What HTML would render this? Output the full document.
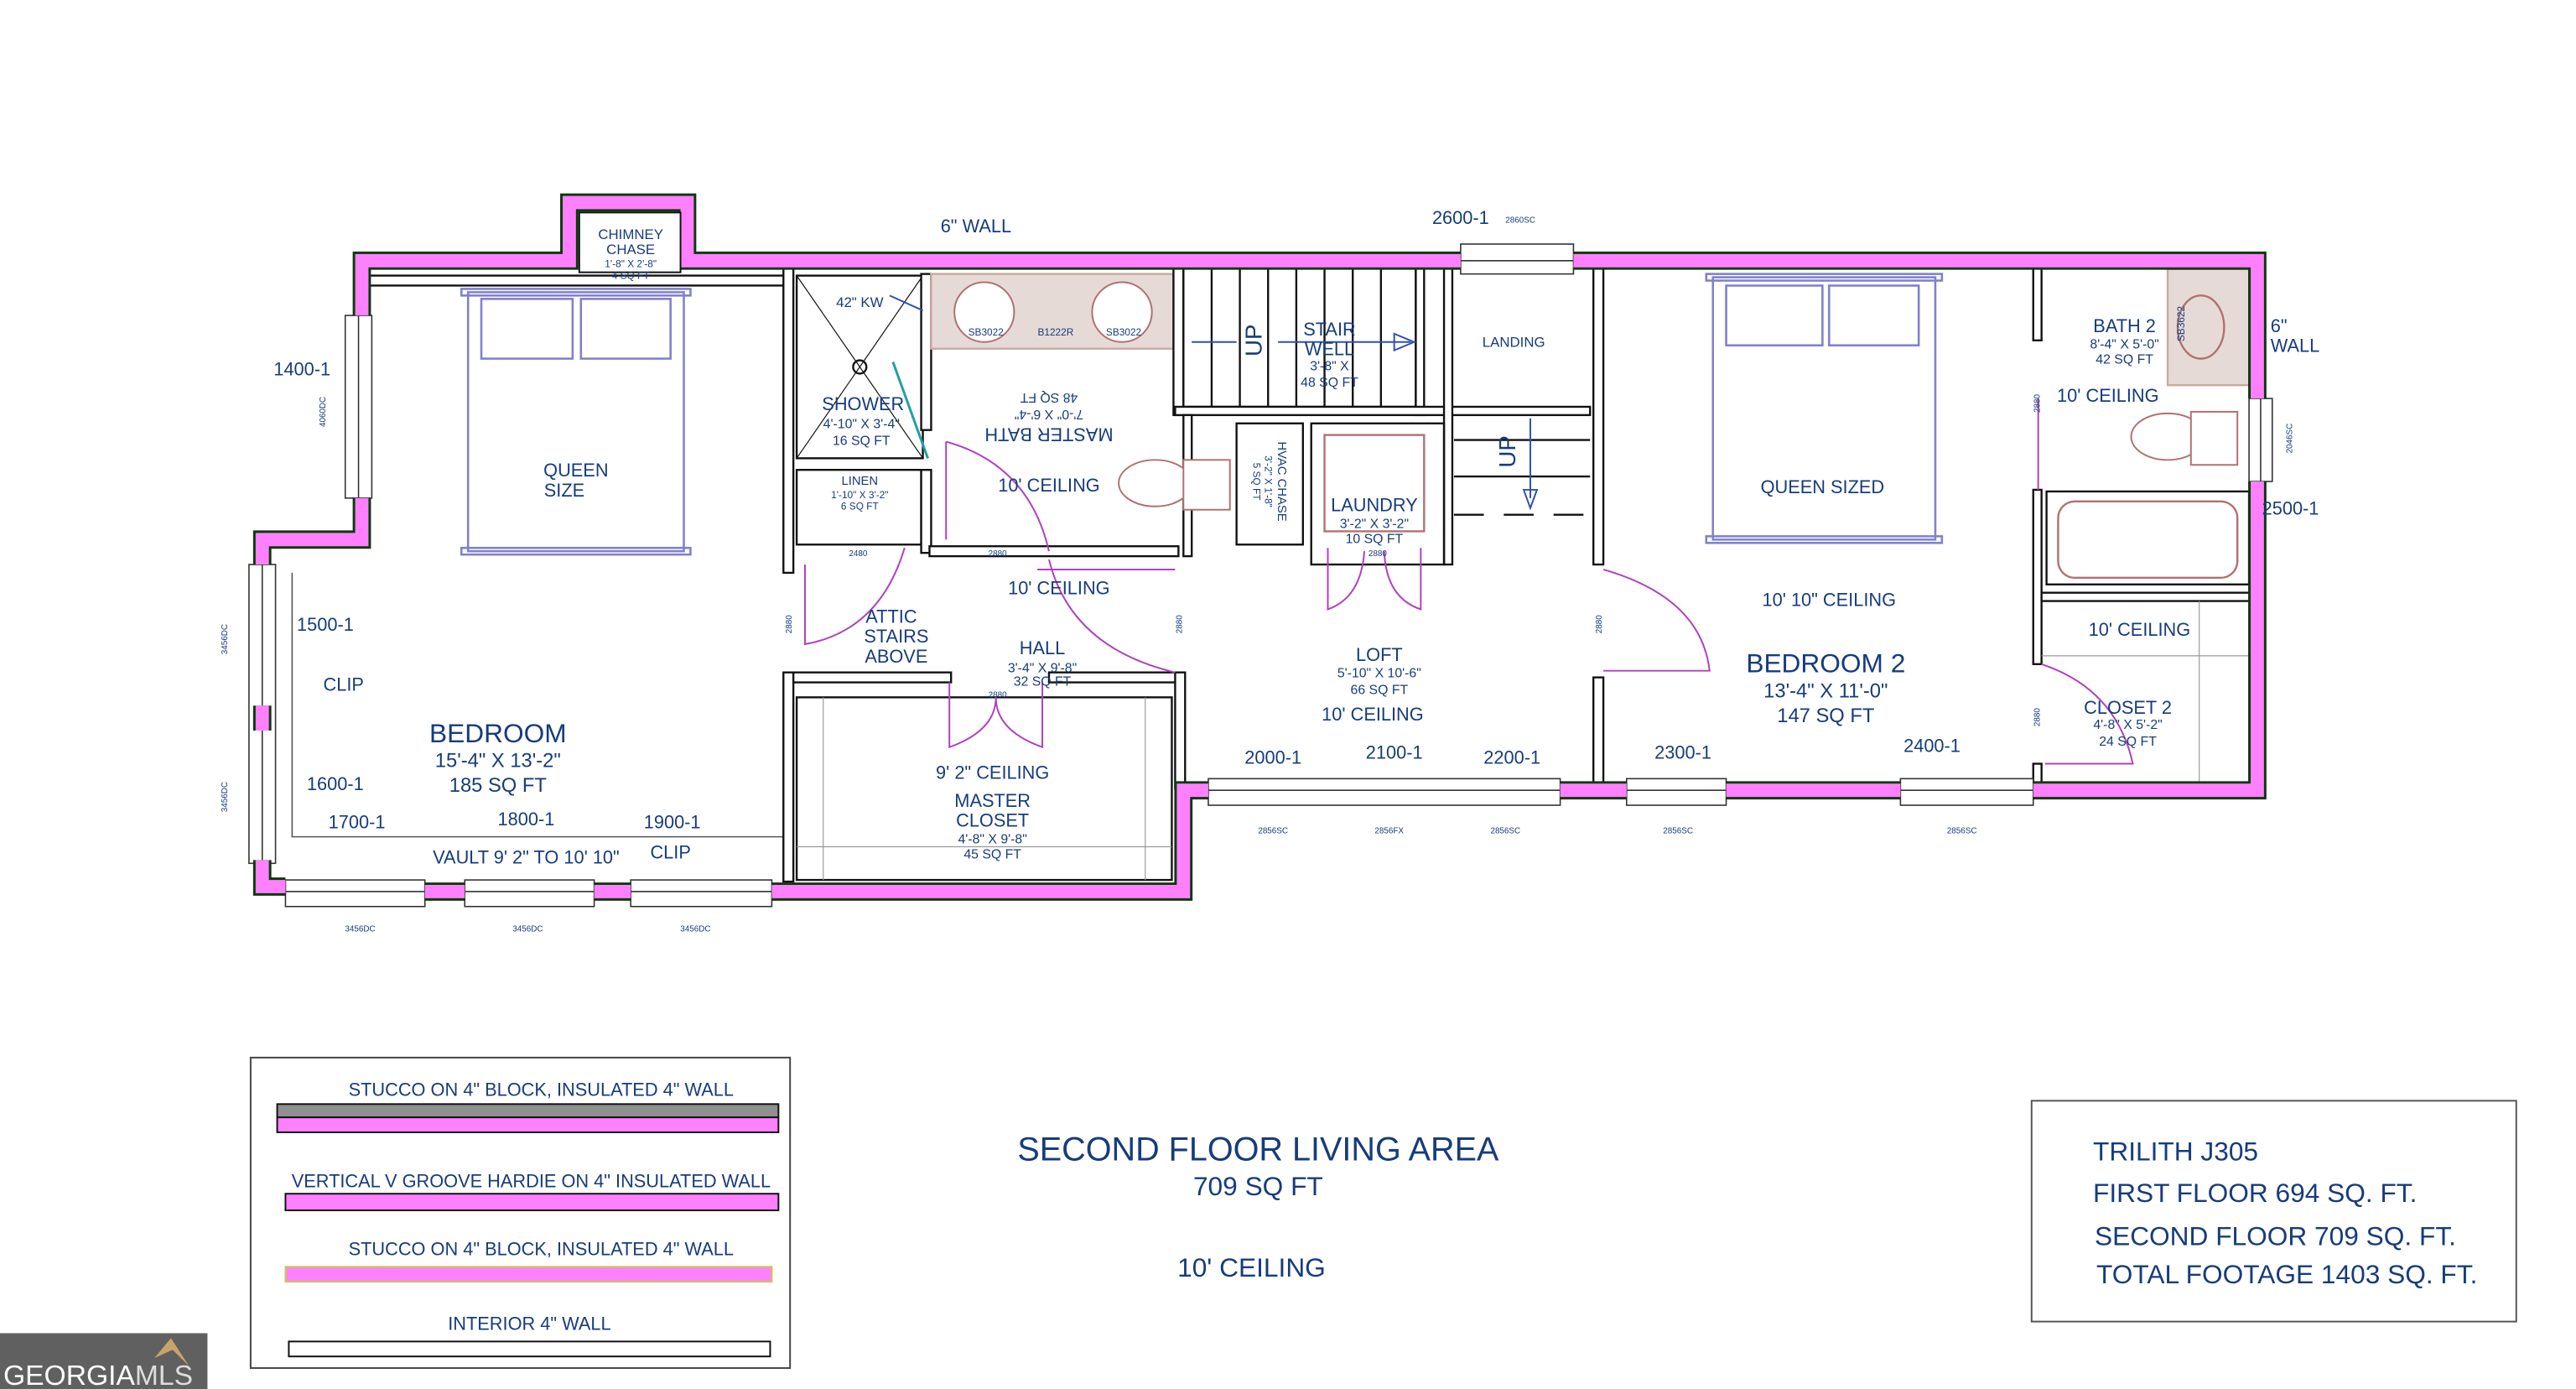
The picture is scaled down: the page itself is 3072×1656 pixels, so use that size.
<!DOCTYPE html>
<html><head><meta charset="utf-8"><style>
html,body{margin:0;padding:0;background:#fff;width:3072px;height:1656px;overflow:hidden}
svg{display:block}
text{font-family:"Liberation Sans Narrow","Liberation Sans",sans-serif;fill:#163c7c}
</style></head><body>
<svg width="3072" height="1656" viewBox="0 0 1552 836.6" xmlns="http://www.w3.org/2000/svg">
<rect width="1552" height="837" fill="#fff"/>
<!-- interior background lines/walls -->
<g fill="#fff" stroke="#111" stroke-width="1.2">
 <!-- bedroom inner top -->
 <line x1="222" y1="172" x2="472" y2="172"/>
 <line x1="222" y1="166" x2="472" y2="166"/>
 <!-- bedroom vault line -->
 <polyline points="176,345 176,504 472,504" fill="none" stroke="#555" stroke-width="0.8"/>
 <!-- wall between bedroom and bath/closet -->
 <rect x="472" y="160" width="6" height="185"/>
 <rect x="472" y="405" width="6" height="126"/>
 <!-- shower -->
 <rect x="480" y="166" width="76" height="110" fill="none"/>
 <line x1="480" y1="166" x2="556" y2="276" stroke-width="0.6"/>
 <line x1="556" y1="166" x2="480" y2="276" stroke-width="0.6"/>
 <circle cx="518" cy="221" r="4" fill="none"/>
 <rect x="555" y="165" width="6" height="94"/>
 <!-- linen -->
 <rect x="480" y="283" width="75" height="45" fill="none"/>
 <rect x="555" y="283" width="6" height="50"/>
 <rect x="560" y="329" width="150" height="6"/>
 <!-- vanity -->
 <rect x="561" y="165" width="146" height="45" fill="#e6dad6" stroke="#c9a8a0"/>
 <rect x="707" y="160" width="6" height="90"/>
 <!-- stairs -->
 <rect x="713" y="160" width="140" height="85" fill="none"/>
 <line x1="730" y1="160" x2="730" y2="245"/><line x1="747" y1="160" x2="747" y2="245"/>
 <line x1="764" y1="160" x2="764" y2="245"/><line x1="781" y1="160" x2="781" y2="245"/>
 <line x1="798" y1="160" x2="798" y2="245"/><line x1="815" y1="160" x2="815" y2="245"/>
 <line x1="832" y1="160" x2="832" y2="245"/>
 <rect x="853" y="160" width="5" height="90"/>
 <rect x="708" y="245" width="250" height="5"/>
 <line x1="876" y1="265" x2="958" y2="265"/><line x1="876" y1="287" x2="958" y2="287"/>
 <line x1="876" y1="310" x2="958" y2="310" stroke-dasharray="18,12"/>
 <rect x="870" y="160" width="5" height="180"/>
 <!-- hvac & laundry -->
 <rect x="745" y="255" width="40" height="73" fill="none"/>
 <rect x="790" y="255" width="80" height="85" fill="none"/>
 <rect x="798" y="262" width="60" height="58" fill="none" stroke="#b07070"/>
 <rect x="713" y="250" width="5" height="85"/>
 <!-- landing wall -->
 <rect x="960" y="160" width="6" height="180"/>
 <rect x="960" y="408" width="6" height="66"/>
 <!-- hall bottom wall / closet -->
 <rect x="478" y="405" width="95" height="6"/>
 <rect x="632" y="405" width="80" height="6"/>
 <rect x="708" y="405" width="6" height="70"/>
 <rect x="480" y="420" width="226" height="110" fill="none"/>
 <line x1="496" y1="420" x2="496" y2="530" stroke="#999" stroke-width="0.6"/>
 <line x1="690" y1="420" x2="690" y2="530" stroke="#999" stroke-width="0.6"/>
 <line x1="480" y1="510" x2="706" y2="510" stroke="#999" stroke-width="0.6"/>
 <!-- bath2 -->
 <rect x="1225" y="160" width="5" height="45"/>
 <rect x="1225" y="295" width="5" height="105"/>
 <rect x="1225" y="460" width="5" height="14"/>
 <rect x="1230" y="357" width="126" height="5"/>
 <rect x="1233" y="296" width="122" height="56" fill="none"/>
 <rect x="1240" y="302" width="108" height="46" rx="10" fill="none" stroke="#b07070"/>
 <rect x="1306" y="162" width="50" height="70" fill="#e6dad6" stroke="#c9a8a0"/>
 <ellipse cx="1326" cy="197" rx="14" ry="19" fill="none" stroke="#b07070"/>
 <line x1="1230" y1="395" x2="1355" y2="395" stroke="#999" stroke-width="0.6"/>
 <line x1="1325" y1="362" x2="1325" y2="472" stroke="#999" stroke-width="0.6"/>
</g>
<!-- toilets & sinks -->
<g fill="#fff" stroke="#b07070" stroke-width="1">
 <ellipse cx="593" cy="188" rx="18" ry="18"/><ellipse cx="676" cy="188" rx="18" ry="18"/>
 <ellipse cx="696" cy="291" rx="22" ry="14"/><rect x="713" y="277" width="28" height="30"/>
 <ellipse cx="1306" cy="263" rx="22" ry="14"/><rect x="1320" y="248" width="28" height="32"/>
</g>
<!-- beds -->
<g fill="none" stroke="#8080d0" stroke-width="1.3">
 <rect x="282" y="176" width="130" height="156"/>
 <rect x="278" y="174" width="138" height="4"/><rect x="278" y="330" width="138" height="4"/>
 <rect x="290" y="180" width="55" height="36"/><rect x="350" y="180" width="54" height="36"/>
 <rect x="1032" y="167" width="134" height="158"/>
 <rect x="1028" y="165" width="142" height="4"/><rect x="1028" y="323" width="142" height="4"/>
 <rect x="1040" y="172" width="58" height="36"/><rect x="1102" y="172" width="54" height="36"/>
</g>
<!-- doors -->
<g fill="none" stroke="#b040c0" stroke-width="1">
 <path d="M485 340 L485 388 Q530 380 545 330"/>
 <path d="M570 266 L570 325 M570 266 Q620 280 632 332"/>
 <path d="M632 337 Q645 390 708 405"/>
 <path d="M572 411 L572 450 Q600 440 600 420 M628 411 L628 450 Q600 440 600 420"/>
 <path d="M800 330 L800 367 Q820 360 822 332 M856 330 L856 367 Q835 360 834 332"/>
 <path d="M966 343 Q1025 360 1030 404 L966 404"/>
 <path d="M1230 400 Q1275 415 1285 460 L1232 460"/>
 <line x1="1228" y1="240" x2="1228" y2="295"/>
 <line x1="625" y1="343" x2="708" y2="343"/>
 <line x1="538" y1="218" x2="559" y2="276" stroke="#20a0a0" stroke-width="1.5"/>
</g>
<!-- windows -->
<g fill="#fff" stroke="#333" stroke-width="0.8">
 <rect x="880" y="147" width="68" height="18"/><line x1="880" y1="157" x2="948" y2="157"/>
 <rect x="208" y="190" width="16" height="110"/><line x1="216" y1="190" x2="216" y2="300"/>
 <rect x="1355" y="240" width="14" height="50"/><line x1="1362" y1="240" x2="1362" y2="290"/>
 <rect x="150" y="340" width="16" height="180"/><line x1="158" y1="340" x2="158" y2="520"/>
 <rect x="172" y="530" width="84" height="16"/><line x1="172" y1="537" x2="256" y2="537"/>
 <rect x="280" y="530" width="78" height="16"/><line x1="280" y1="537" x2="358" y2="537"/>
 <rect x="380" y="530" width="85" height="16"/><line x1="380" y1="537" x2="465" y2="537"/>
 <rect x="728" y="469" width="212" height="16"/><line x1="728" y1="476" x2="940" y2="476"/>
 <rect x="980" y="469" width="60" height="16"/><line x1="980" y1="476" x2="1040" y2="476"/>
 <rect x="1145" y="469" width="80" height="16"/><line x1="1145" y1="476" x2="1225" y2="476"/>
</g>
<!-- exterior walls -->
<g fill="none" stroke-linejoin="miter">
 <g stroke="#0a3a0a" stroke-width="11">
  <polyline points="218,190 218,157 343,157 343,122 414,122 414,157 880,157"/>
  <polyline points="948,157 1360,157 1360,240"/>
  <polyline points="1360,290 1360,476 1225,476"/>
  <polyline points="1145,476 1040,476"/><polyline points="980,476 940,476"/>
  <polyline points="728,476 713,476 713,537 465,537"/>
  <polyline points="380,537 358,537"/><polyline points="280,537 256,537"/>
  <polyline points="172,534 158,534 158,518"/><polyline points="158,440 158,425"/>
  <polyline points="158,340 158,325 218,325 218,300"/>
 </g>
 <g stroke="#ff80ff" stroke-width="8">
  <polyline points="218,190 218,157 343,157 343,122 414,122 414,157 880,157"/>
  <polyline points="948,157 1360,157 1360,240"/>
  <polyline points="1360,290 1360,476 1225,476"/>
  <polyline points="1145,476 1040,476"/><polyline points="980,476 940,476"/>
  <polyline points="728,476 713,476 713,537 465,537"/>
  <polyline points="380,537 358,537"/><polyline points="280,537 256,537"/>
  <polyline points="172,534 158,534 158,518"/><polyline points="158,440 158,425"/>
  <polyline points="158,340 158,325 218,325 218,300"/>
 </g>
</g>
<rect x="349" y="128" width="61" height="36" fill="#fff" stroke="#111"/>
<!-- arrows -->
<g stroke="#3050b0" fill="none" stroke-width="1">
 <line x1="718" y1="206" x2="745" y2="206"/><line x1="770" y1="206" x2="850" y2="206"/>
 <path d="M840 201 L852 206 L840 211 Z"/>
 <line x1="922" y1="252" x2="922" y2="300"/><path d="M918 295 L922 306 L926 295 Z"/>
 <line x1="536" y1="178" x2="556" y2="187"/>
</g>
<!-- labels -->
<g text-anchor="middle">
 <text x="380" y="144" font-size="8.5">CHIMNEY</text><text x="380" y="153" font-size="8.5">CHASE</text>
 <text x="380" y="161" font-size="6">1'-8" X 2'-8"</text><text x="380" y="168" font-size="6">4 SQ FT</text>
 <text x="588" y="140" font-size="11">6" WALL</text>
 <text x="880" y="135" font-size="11">2600-1</text><text x="916" y="134" font-size="5">2860SC</text>
 <text x="182" y="226" font-size="11">1400-1</text>
 <text x="196" y="248" font-size="5" transform="rotate(-90 196 248)">4060DC</text>
 <text x="347" y="287" font-size="11">QUEEN</text><text x="340" y="299" font-size="11">SIZE</text>
 <text x="518" y="185" font-size="8.5">42" KW</text>
 <text x="520" y="247" font-size="11">SHOWER</text><text x="519" y="258" font-size="8">4'-10" X 3'-4"</text><text x="519" y="268" font-size="8">16 SQ FT</text>
 <text x="594" y="202" font-size="6">SB3022</text><text x="636" y="202" font-size="6">B1222R</text><text x="677" y="202" font-size="6">SB3022</text>
 <g transform="rotate(180 632 250)"><text x="632" y="242" font-size="11">MASTER BATH</text><text x="632" y="253" font-size="8">7'-0" X 6'-4"</text><text x="632" y="263" font-size="8">48 SQ FT</text></g>
 <text x="518" y="292" font-size="7.5">LINEN</text><text x="518" y="300" font-size="6">1'-10" X 3'-2"</text><text x="518" y="307" font-size="6">6 SQ FT</text>
 <text x="632" y="296" font-size="11">10' CEILING</text>
 <text x="517" y="335" font-size="5">2480</text><text x="601" y="335" font-size="5">2880</text>
 <text x="638" y="358" font-size="11">10' CEILING</text>
 <text x="537" y="375" font-size="11">ATTIC</text><text x="540" y="387" font-size="11">STAIRS</text><text x="540" y="399" font-size="11">ABOVE</text>
 <text x="628" y="394" font-size="11">HALL</text><text x="628" y="405" font-size="8">3'-4" X 9'-8"</text><text x="628" y="413" font-size="8">32 SQ FT</text>
 <text x="601" y="420" font-size="5">2880</text>
 <text x="598" y="469" font-size="11">9' 2" CEILING</text>
 <text x="598" y="486" font-size="11">MASTER</text><text x="598" y="498" font-size="11">CLOSET</text>
 <text x="598" y="508" font-size="8">4'-8" X 9'-8"</text><text x="598" y="517" font-size="8">45 SQ FT</text>
 <text x="196" y="380" font-size="11">1500-1</text><text x="207" y="416" font-size="11">CLIP</text>
 <text x="300" y="447" font-size="16">BEDROOM</text><text x="300" y="462" font-size="12">15'-4" X 13'-2"</text><text x="300" y="477" font-size="12">185 SQ FT</text>
 <text x="202" y="476" font-size="11">1600-1</text>
 <text x="215" y="499" font-size="11">1700-1</text><text x="317" y="497" font-size="11">1800-1</text><text x="405" y="499" font-size="11">1900-1</text>
 <text x="317" y="520" font-size="11">VAULT 9' 2" TO 10' 10"</text><text x="404" y="517" font-size="11">CLIP</text>
 <text x="217" y="561" font-size="5">3456DC</text><text x="318" y="561" font-size="5">3456DC</text><text x="419" y="561" font-size="5">3456DC</text>
 <text x="137" y="385" font-size="5" transform="rotate(-90 137 385)">3456DC</text>
 <text x="137" y="480" font-size="5" transform="rotate(-90 137 480)">3456DC</text>
 <text x="801" y="202" font-size="11">STAIR</text><text x="801" y="214" font-size="11">WELL</text>
 <text x="801" y="223" font-size="8">3'-8" X</text><text x="801" y="233" font-size="8">48 SQ FT</text>
 <text x="912" y="209" font-size="8.5">LANDING</text>
 <text x="760" y="205" font-size="14" transform="rotate(-90 760 205)">UP</text>
 <text x="913" y="272" font-size="14" transform="rotate(-90 913 272)">UP</text>
 <g transform="rotate(90 766 290)"><text x="766" y="286" font-size="7.5">HVAC CHASE</text><text x="766" y="294" font-size="6">3'-2" X 1'-8"</text><text x="766" y="301" font-size="6">5 SQ FT</text></g>
 <text x="828" y="308" font-size="11">LAUNDRY</text><text x="828" y="318" font-size="8">3'-2" X 3'-2"</text><text x="828" y="327" font-size="8">10 SQ FT</text>
 <text x="830" y="335" font-size="5">2880</text>
 <text x="712" y="376" font-size="5" transform="rotate(-90 712 376)">2880</text>
 <text x="477" y="376" font-size="5" transform="rotate(-90 477 376)">2880</text>
 <text x="965" y="376" font-size="5" transform="rotate(-90 965 376)">2880</text>
 <text x="831" y="398" font-size="11">LOFT</text><text x="831" y="408" font-size="8">5'-10" X 10'-6"</text><text x="831" y="418" font-size="8">66 SQ FT</text>
 <text x="827" y="434" font-size="11">10' CEILING</text>
 <text x="767" y="460" font-size="11">2000-1</text><text x="840" y="457" font-size="11">2100-1</text><text x="911" y="460" font-size="11">2200-1</text>
 <text x="1014" y="457" font-size="11">2300-1</text><text x="1164" y="453" font-size="11">2400-1</text>
 <text x="767" y="502" font-size="5">2856SC</text><text x="837" y="502" font-size="5">2856FX</text><text x="907" y="502" font-size="5">2856SC</text>
 <text x="1011" y="502" font-size="5">2856SC</text><text x="1182" y="502" font-size="5">2856SC</text>
 <text x="1098" y="297" font-size="11">QUEEN SIZED</text>
 <text x="1102" y="365" font-size="11">10' 10" CEILING</text>
 <text x="1100" y="405" font-size="16">BEDROOM 2</text><text x="1100" y="420" font-size="12">13'-4" X 11'-0"</text><text x="1100" y="435" font-size="12">147 SQ FT</text>
 <text x="1280" y="200" font-size="11">BATH 2</text><text x="1280" y="210" font-size="8">8'-4" X 5'-0"</text><text x="1280" y="219" font-size="8">42 SQ FT</text>
 <text x="1270" y="242" font-size="11">10' CEILING</text>
 <text x="1289" y="383" font-size="11">10' CEILING</text>
 <text x="1282" y="430" font-size="11">CLOSET 2</text><text x="1282" y="439" font-size="8">4'-8" X 5'-2"</text><text x="1282" y="449" font-size="8">24 SQ FT</text>
 <text x="1380" y="310" font-size="11">2500-1</text>
 <text x="1381" y="264" font-size="5" transform="rotate(-90 1381 264)">2046SC</text>
 <text x="1229" y="243" font-size="5" transform="rotate(-90 1229 243)">2880</text>
 <text x="1229" y="432" font-size="5" transform="rotate(-90 1229 432)">2880</text>
 <text x="1316" y="195" font-size="6" transform="rotate(-90 1316 195)">SB3622</text>
</g>
<text x="1368" y="200" font-size="11">6"</text><text x="1368" y="212" font-size="11">WALL</text>
<!-- legend -->
<rect x="151" y="637" width="325" height="187" fill="#fff" stroke="#444" stroke-width="1"/>
<g text-anchor="middle" font-size="11">
 <text x="326" y="660">STUCCO ON 4" BLOCK, INSULATED 4" WALL</text>
 <text x="320" y="715">VERTICAL V GROOVE HARDIE ON 4" INSULATED WALL</text>
 <text x="326" y="756">STUCCO ON 4" BLOCK, INSULATED 4" WALL</text>
 <text x="319" y="801">INTERIOR 4" WALL</text>
</g>
<rect x="167" y="665" width="302" height="8" fill="#909090" stroke="#111"/>
<rect x="167" y="673" width="302" height="9" fill="#ff80ff" stroke="#111"/>
<rect x="172" y="719" width="297" height="10" fill="#ff80ff" stroke="#111"/>
<rect x="172" y="763" width="293" height="9" fill="#ff80ff" stroke="#c8c84a"/>
<rect x="174" y="808" width="290" height="9" fill="#fff" stroke="#111"/>
<!-- title -->
<g text-anchor="middle">
 <text x="758" y="699" font-size="20">SECOND FLOOR LIVING AREA</text>
 <text x="758" y="720" font-size="16">709 SQ FT</text>
 <text x="754" y="769" font-size="16">10' CEILING</text>
</g>
<rect x="1224" y="663" width="292" height="133" fill="#fff" stroke="#555"/>
<g font-size="16">
 <text x="1261" y="699">TRILITH J305</text>
 <text x="1261" y="724">FIRST FLOOR 694 SQ. FT.</text>
 <text x="1262" y="750">SECOND FLOOR 709 SQ. FT.</text>
 <text x="1263" y="773">TOTAL FOOTAGE 1403 SQ. FT.</text>
</g>
<!-- logo -->
<rect x="0" y="803" width="125" height="42" fill="#606060"/>
<path d="M93 818 L103 806 L114 823 L104 813 Z" fill="#c9a46a"/>
<text x="2" y="834" font-size="17" style="fill:#fff">GEORGIA<tspan style="fill:#ddd">MLS</tspan></text>
<text x="62" y="843" font-size="6" text-anchor="middle" style="fill:#ddd;letter-spacing:1px">REAL ESTATE SERVICES</text>
</svg>
</body></html>
